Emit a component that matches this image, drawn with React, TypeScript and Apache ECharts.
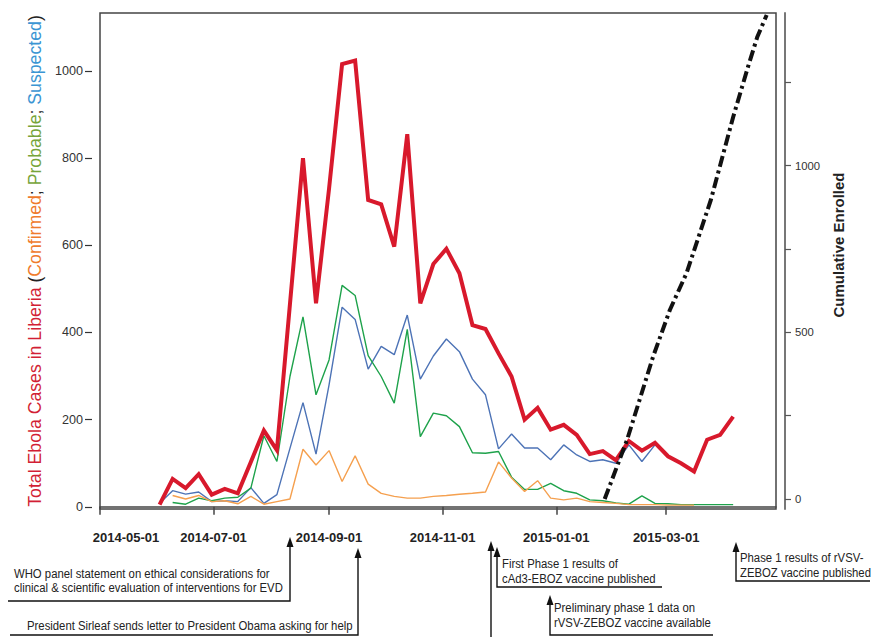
import React, { useEffect, useRef } from 'react';
import * as echarts from 'echarts';

// ---- data ----
const weeks = [
  '2014-06-02', '2014-06-09', '2014-06-16', '2014-06-23', '2014-06-30', '2014-07-07', '2014-07-14', '2014-07-21',
  '2014-07-28', '2014-08-04', '2014-08-11', '2014-08-18', '2014-08-25', '2014-09-01', '2014-09-08', '2014-09-15',
  '2014-09-22', '2014-09-29', '2014-10-06', '2014-10-13', '2014-10-20', '2014-10-27', '2014-11-03', '2014-11-10',
  '2014-11-17', '2014-11-24', '2014-12-01', '2014-12-08', '2014-12-15', '2014-12-22', '2014-12-29', '2015-01-05',
  '2015-01-12', '2015-01-19', '2015-01-26', '2015-02-02', '2015-02-09', '2015-02-16', '2015-02-23', '2015-03-02',
  '2015-03-09', '2015-03-16', '2015-03-23', '2015-03-30', '2015-04-06',
];
const totalCases = [
  5, 64, 43, 75, 28, 41, 31, 103, 175, 130, 465, 800, 467, 730, 1016, 1024, 704, 694, 597, 855, 467, 557, 592,
  536, 417, 408, 352, 299, 200, 227, 177, 188, 165, 121, 128, 107, 151, 129, 147, 116, 100, 81, 154, 165, 207,
];
const suspectedCases = [
  8, 37, 29, 34, 12, 14, 12, 44, 8, 28, 134, 239, 121, 280, 458, 430, 316, 368, 349, 440, 293, 346, 385, 356,
  293, 257, 133, 167, 135, 135, 108, 142, 119, 104, 108, 100, 142, 104, 142,
];
const probableCases = [
  null, 10, 6, 20, 14, 20, 22, 43, 163, 104, 299, 436, 257, 337, 508, 485, 347, 299, 238, 407, 161, 215, 209,
  184, 124, 123, 127, 68, 40, 40, 54, 37, 31, 16, 14, 9, 6, 25, 8, 7, 5, 5, 5, 5, 5,
];
const confirmedCases = [
  null, 26, 18, 26, 12, 14, 7, 24, 6, 12, 18, 132, 96, 129, 58, 117, 52, 31, 24, 20, 20, 24, 26, 29, 31, 34,
  103, 66, 35, 60, 20, 16, 20, 12, 10, 8, 5, 5, 5, 4, 4, 4,
];
const enrollDates = [
  '2015-01-27', '2015-02-08', '2015-02-22', '2015-03-03', '2015-03-12', '2015-03-25', '2015-04-06', '2015-04-14',
  '2015-04-19', '2015-04-24',
];
const enrolled = [0, 177, 427, 567, 678, 897, 1146, 1297, 1387, 1452];

const xTicks = ['2014-05-01', '2014-07-01', '2014-09-01', '2014-11-01', '2015-01-01', '2015-03-01'];
const leftTicks = [0, 200, 400, 600, 800, 1000];
const rightTicks = [0, 250, 500, 750, 1000, 1250];
const rightLabels = [0, 500, 1000];

const annotationTexts = [
  'WHO panel statement on ethical considerations for\nclinical & scientific evaluation of interventions for EVD',
  'President Sirleaf sends letter to President Obama asking for help',
  'First Phase 1 results of\ncAd3-EBOZ vaccine published',
  'Preliminary phase 1 data on\nrVSV-ZEBOZ vaccine available',
  'Phase 1 results of rVSV-\nZEBOZ vaccine published',
];

const SANS = "'Liberation Sans', Arial, sans-serif";

function ts(s: string): number {
  const [y, m, d] = s.split('-').map(Number);
  return Date.UTC(y, m - 1, d);
}
function fmt(v: number): string {
  const d = new Date(v);
  const mm = String(d.getUTCMonth() + 1).padStart(2, '0');
  const dd = String(d.getUTCDate()).padStart(2, '0');
  return `${d.getUTCFullYear()}-${mm}-${dd}`;
}
function pairs(vals: (number | null)[]) {
  return vals.map((v, i) => [ts(weeks[i]), v]);
}

function arrow(x: number, tip: number, pts: number[][]) {
  return [
    { type: 'polyline', shape: { points: pts }, style: { stroke: '#111', lineWidth: 1.4, fill: null } },
    {
      type: 'polygon',
      shape: { points: [[x, tip], [x - 3.5, tip + 10], [x + 3.5, tip + 10]] },
      style: { fill: '#111' },
    },
  ];
}
function note(text: string, x: number, y: number, lh: number) {
  return {
    type: 'text',
    x,
    y,
    scaleX: 0.84,
    style: {
      text,
      fill: '#222',
      fontSize: 13.5,
      fontFamily: SANS,
      lineHeight: lh,
      verticalAlign: 'middle',
      align: 'left',
    },
  };
}

export default function App() {
  const ref = useRef<HTMLDivElement>(null);
  useEffect(() => {
    document.body.style.margin = '0';
    const chart = echarts.init(ref.current!, undefined, { renderer: 'svg' });
    const thin = (name: string, color: string, data: any[]) => ({
      name,
      type: 'line',
      data,
      yAxisIndex: 0,
      symbol: 'none',
      lineStyle: { color, width: 1.4 },
      itemStyle: { color },
      z: 2,
    });
    const fs = 17.7;
    chart.setOption({
      animation: false,
      backgroundColor: '#fff',
      grid: {
        left: 100,
        right: 97,
        top: 13,
        height: 496,
        show: true,
        borderColor: '#444',
        borderWidth: 1.5,
        backgroundColor: 'transparent',
      },
      xAxis: {
        type: 'value',
        min: ts('2014-05-01'),
        max: ts('2015-04-29'),
        offset: 10,
        splitLine: { show: false },
        axisLine: { show: true, lineStyle: { color: '#444', width: 1.5 } },
        axisTick: {
          show: true,
          length: 8,
          lineStyle: { color: '#444', width: 1.5 },
          customValues: xTicks.map(ts),
        },
        axisLabel: {
          customValues: xTicks.map(ts),
          margin: 12,
          formatter: (v: number) => {
            const s = fmt(v);
            return s === xTicks[0] ? `{first|${s}}` : `{n|${s}}`;
          },
          rich: {
            n: { fontFamily: SANS, fontWeight: 'bold', fontSize: 13, color: '#222' },
            first: {
              fontFamily: SANS,
              fontWeight: 'bold',
              fontSize: 13,
              color: '#222',
              padding: [0, 0, 0, 52],
            },
          },
        },
      },
      yAxis: [
        {
          type: 'value',
          position: 'left',
          min: -5,
          max: 1133,
          offset: 8,
          splitLine: { show: false },
          axisLine: { show: false },
          axisTick: {
            show: true,
            length: 7,
            lineStyle: { color: '#333', width: 1.2 },
            customValues: leftTicks,
          },
          axisLabel: {
            customValues: leftTicks,
            formatter: (v: number) => String(v),
            margin: 9,
            fontFamily: SANS,
            fontSize: 12.6,
            color: '#333',
          },
          name:
            '{r|Total Ebola Cases in Liberia }{k|(}{o|Confirmed}{k|; }{g|Probable}{k|; }{b|Suspected}{k|)}',
          nameLocation: 'middle',
          nameRotate: 90,
          nameGap: 43,
          nameTextStyle: {
            fontFamily: SANS,
            fontSize: fs,
            rich: {
              r: { color: '#d21f35', fontFamily: SANS, fontSize: fs },
              k: { color: '#222', fontFamily: SANS, fontSize: fs },
              o: { color: '#ef7b2c', fontFamily: SANS, fontSize: fs },
              g: { color: '#76a43a', fontFamily: SANS, fontSize: fs },
              b: { color: '#3b95d3', fontFamily: SANS, fontSize: fs },
            },
          },
        },
        {
          type: 'value',
          position: 'right',
          min: -30,
          max: 1458,
          offset: 9,
          splitLine: { show: false },
          axisLine: { show: true, lineStyle: { color: '#777', width: 2 } },
          axisTick: {
            show: true,
            length: 6,
            lineStyle: { color: '#555', width: 1.2 },
            customValues: rightTicks,
          },
          axisLabel: {
            customValues: rightLabels,
            formatter: (v: number) => String(v),
            margin: 10,
            fontFamily: SANS,
            fontSize: 11.3,
            color: '#333',
          },
          name: 'Cumulative Enrolled',
          nameLocation: 'middle',
          nameRotate: 90,
          nameGap: 40,
          nameTextStyle: {
            fontFamily: SANS,
            fontWeight: 'bold',
            fontSize: 15,
            color: '#222',
            padding: [0, 0, 0, 32],
          },
        },
      ],
      series: [
        thin('Suspected', '#4d73b6', pairs(suspectedCases)),
        thin('Probable', '#1ea24b', pairs(probableCases)),
        thin('Confirmed', '#f5a04f', pairs(confirmedCases)),
        {
          name: 'Total',
          type: 'line',
          data: pairs(totalCases),
          yAxisIndex: 0,
          symbol: 'none',
          lineStyle: { color: '#d8192c', width: 4, join: 'miter' },
          itemStyle: { color: '#d8192c' },
          z: 3,
        },
        {
          name: 'Cumulative Enrolled',
          type: 'line',
          data: enrollDates.map((d, i) => [ts(d), enrolled[i]]),
          yAxisIndex: 1,
          symbol: 'none',
          lineStyle: { color: '#111', width: 4, type: [11, 4, 3, 4], cap: 'butt' },
          itemStyle: { color: '#111' },
          z: 4,
        },
      ],
      graphic: [
        note(annotationTexts[0], 14, 581, 14),
        ...arrow(290, 537, [[8, 601], [290, 601], [290, 545]]),
        note(annotationTexts[1], 27, 626, 14),
        ...arrow(358, 548, [[10, 635], [358, 635], [358, 556]]),
        ...arrow(491, 541, [[491, 640], [491, 549]]),
        note(annotationTexts[2], 502, 571.5, 15),
        ...arrow(497, 547, [[662, 587], [497, 587], [497, 555]]),
        note(annotationTexts[3], 554, 615.5, 15),
        ...arrow(550, 595, [[713, 635], [550, 635], [550, 603]]),
        note(annotationTexts[4], 740, 565.5, 15),
        ...arrow(736, 542, [[870, 581], [736, 581], [736, 550]]),
      ],
    });
    return () => chart.dispose();
  }, []);
  return <div ref={ref} style={{ width: 873, height: 637 }} />;
}
